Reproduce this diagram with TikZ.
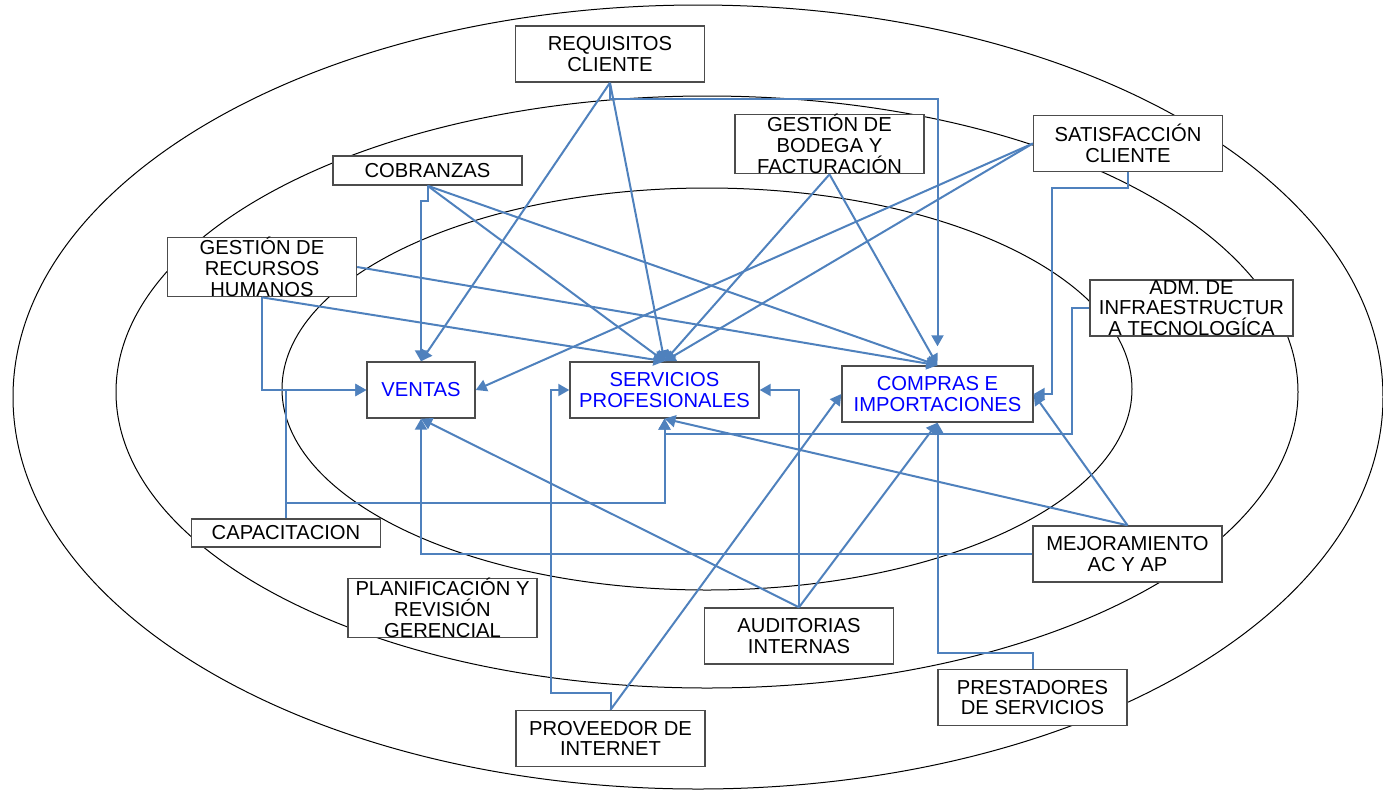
\documentclass[tikz,border=0pt]{standalone}
\usepackage{fontspec}
\setmainfont{Liberation Sans}
\usetikzlibrary{arrows.meta}
\definecolor{lineblue}{RGB}{79,129,189}
\definecolor{txtblue}{RGB}{0,0,255}
\begin{document}
\begin{tikzpicture}[x=0.5pt,y=-0.5pt,
  box/.style={draw=black!70, line width=0.7pt, fill=white, minimum width=94.5pt, minimum height=28pt, inner sep=0pt, align=center, font=\fontsize{10.1}{10.4}\selectfont},
  core/.style={box, text=txtblue},
  conn/.style={draw=lineblue, line width=1pt, -{Triangle[length=5.5pt,width=6pt]}},
  ring/.style={draw=black, line width=0.5pt}]
\useasboundingbox (0,0) rectangle (1383,789);
% rings
\draw[ring] (698,397) ellipse [x radius=685, y radius=392];
\draw[ring] (707,392) ellipse [x radius=591, y radius=296];
\draw[ring] (707,389) ellipse [x radius=425, y radius=201];
% boxes
\node[box] (req) at (610,54) {REQUISITOS\\CLIENTE};
\node[box] (bod) at (829.5,144) {GESTIÓN DE\\BODEGA Y\\FACTURACIÓN};
\node[box] (sat) at (1128,143.5) {SATISFACCIÓN\\CLIENTE};
\node[box, minimum height=14.5pt] (cob) at (427.5,170.5) {COBRANZAS};
\node[box] (rrhh) at (262,267) {GESTIÓN DE\\RECURSOS\\HUMANOS};
\node[box, minimum width=101.5pt] (adm) at (1191.5,308) {ADM. DE\\INFRAESTRUCTUR\\A TECNOLOGÍCA};
\node[core, minimum width=54pt] (ven) at (421,390) {VENTAS};
\node[core] (serv) at (664.5,390) {SERVICIOS\\PROFESIONALES};
\node[core, minimum width=95.5pt] (comp) at (937.5,394) {COMPRAS E\\IMPORTACIONES};
\node[box, minimum height=14pt] (cap) at (286,533) {CAPACITACION};
\node[box] (plan) at (442.5,608) {PLANIFICACIÓN Y\\REVISIÓN\\GERENCIAL};
\node[box] (aud) at (799,636) {AUDITORIAS\\INTERNAS};
\node[box] (prov) at (610.5,738.5) {PROVEEDOR DE\\INTERNET};
\node[box] (mej) at (1127.5,554) {MEJORAMIENTO\\AC Y AP};
\node[box] (prest) at (1032.5,697.5) {PRESTADORES\\DE SERVICIOS};
% connectors
\draw[conn] (req.south) -- (ven.north);
\draw[conn] (req.south) -- (serv.north);
\draw[conn, shorten >=9.5pt] (req.south) -- ++(0,16) -| (comp.north);
\draw[conn] (cob.south) -- ++(0,15) -| (ven.north);
\draw[conn] (cob.south) -- (serv.north);
\draw[conn] (cob.south) -- (comp.north);
\draw[conn] (rrhh.east) -- (comp.north);
\draw[conn] (rrhh.south) -- (serv.north);
\draw[conn] (rrhh.south) |- (ven.west);
\draw[conn] (bod.south) -- (serv.north);
\draw[conn] (bod.south) -- (comp.north);
\draw[conn] (sat.west) -- (ven.east);
\draw[conn] (sat.west) -- (serv.north);
\draw[conn] (sat.south) -- ++(0,16) -| ([xshift=9pt]comp.east) -- (comp.east);
\draw[conn] (adm.west) -- ++(-17,0) |- ([yshift=-7.5pt]serv.south) -- (serv.south);
\draw[conn] (mej.north) -- (comp.east);
\draw[conn] (mej.north) -- (serv.south);
\draw[conn] (mej.west) -| (ven.south);
\draw[conn] (cap.north) |- (ven.west);
\draw[conn] (cap.north) -- ++(0,-15) -| (serv.south);
\draw[conn] (aud.north) -- (ven.south);
\draw[conn] (aud.north) |- (serv.east);
\draw[conn] (aud.north) -- (comp.south);
\draw[conn] (prov.north) -- ++(0,-17) -| ([xshift=-9pt]serv.west) -- (serv.west);
\draw[conn] (prov.north) -- (comp.west);
\draw[conn] (prest.north) -- ++(0,-16) -| (comp.south);
\end{tikzpicture}
\end{document}
